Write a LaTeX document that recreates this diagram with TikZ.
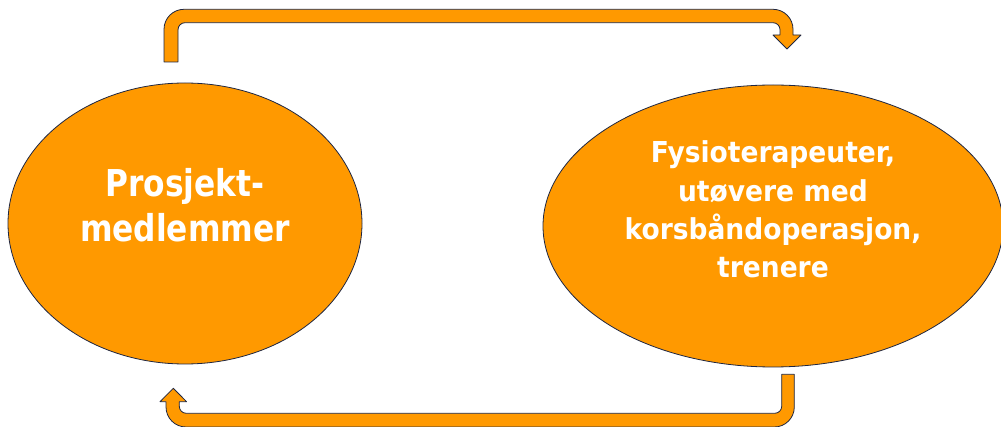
\documentclass[tikz,border=0pt]{standalone}
\usepackage{fontspec}
\newfontfamily\teamfont{DejaVu Sans}[FakeStretch=0.845]
\newfontfamily\userfont{DejaVu Sans}[FakeStretch=0.92]
\usetikzlibrary{shapes.geometric}
\definecolor{fillorange}{RGB}{255,153,0}
\definecolor{edgenavy}{RGB}{30,38,66}
\begin{document}
\begin{tikzpicture}[x=1pt,y=-1pt,
  bubble/.style={ellipse, draw=edgenavy, line width=0.8pt, fill=fillorange, inner sep=0pt},
  blockarrow/.style={draw=edgenavy, line width=0.8pt, fill=fillorange, line join=round},
  caption/.style={text=white, align=center, inner sep=0pt}]
\useasboundingbox (0,0) rectangle (1001,427);

% the two groups
\node[bubble, minimum width=354pt, minimum height=281pt] (team) at (185,223.5) {};
\node[bubble, minimum width=460pt, minimum height=282pt] (users) at (773,226) {};

\node[caption, font=\teamfont\bfseries\fontsize{37}{45}\selectfont] (teamtext) at (185,205.5)
  {Prosjekt-\\medlemmer};
\node[caption, font=\userfont\bfseries\fontsize{28.8}{38.3}\selectfont] (userstext) at (773,209.5)
  {Fysioterapeuter,\\utøvere med\\korsbåndoperasjon,\\trenere};

% upper block arrow: team -> users
\draw[blockarrow] (164,62) -- (164,29.3) .. controls (164,18.25) and (172.95,9.3) .. (184,9.3)
  -- (773,9.3) .. controls (784.05,9.3) and (793,18.25) .. (793,29.3)
  -- (793,35) -- (801,35) -- (787,49) -- (773,35) -- (780,35)
  -- (780,29.7) .. controls (780,25.83) and (776.87,22.7) .. (773,22.7)
  -- (185,22.7) .. controls (181.13,22.7) and (178,25.83) .. (178,29.7)
  -- (178,62) -- cycle;

% lower block arrow: users -> team
\draw[blockarrow] (794.3,374.3) -- (794.3,407) .. controls (794.3,418.05) and (785.35,427) .. (774.3,427)
  -- (186,427) .. controls (174.95,427) and (166,418.05) .. (166,407)
  -- (166,401.7) -- (160,401.7) -- (173.3,388.3) -- (186.6,401.7) -- (179.3,401.7)
  -- (179.3,406.3) .. controls (179.3,410.17) and (182.43,413.3) .. (186.3,413.3)
  -- (774.7,413.3) .. controls (778.57,413.3) and (781.7,410.17) .. (781.7,406.3)
  -- (781.7,374.3) -- cycle;
\end{tikzpicture}
\end{document}
